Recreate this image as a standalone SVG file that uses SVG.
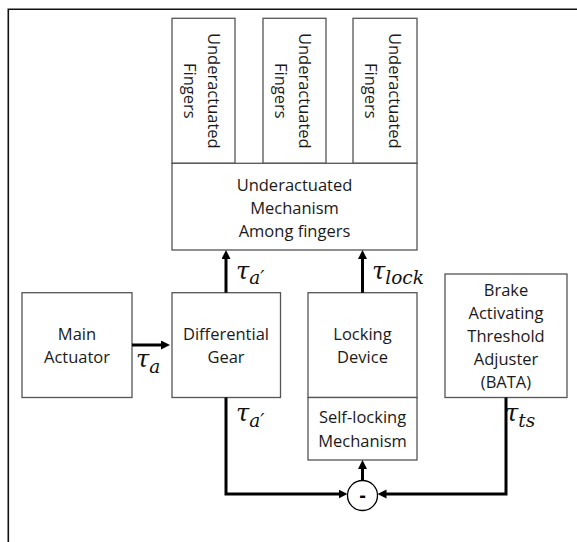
<svg xmlns="http://www.w3.org/2000/svg" width="577" height="542" viewBox="0 0 577 542">
<style>
.box{fill:#fff;stroke:#555;stroke-width:1.3}
.t{font-family:"Open Sans","Liberation Sans",sans-serif;font-size:16.5px;fill:#1a1a1a;text-anchor:middle}
.m{font-family:"DejaVu Serif","Liberation Serif",serif;font-style:italic;font-size:24px;fill:#111}
.s{font-size:18.5px}
.w{stroke:#000;stroke-width:3;fill:none}
.frame{stroke:#111;stroke-width:1.6;fill:none}
</style>
<defs>
<marker id="ah" markerUnits="userSpaceOnUse" markerWidth="10" markerHeight="10" refX="2" refY="4.5" orient="auto">
<path d="M0,0 L9,4.5 L0,9 z" fill="#000"/>
</marker>
</defs>
<rect width="577" height="542" fill="#fff"/>
<path class="frame" d="M8.3,542 V9.3 H577"/>

<g id="finger1">
<rect class="box" x="172" y="18.3" width="63" height="145"/>
<text class="t" transform="translate(207.5,90.8) rotate(90)"><tspan x="0" y="0">Underactuated</tspan><tspan x="0" y="24">Fingers</tspan></text>
</g>
<g id="finger2">
<rect class="box" x="263" y="18.3" width="63" height="145"/>
<text class="t" transform="translate(298.5,90.8) rotate(90)"><tspan x="0" y="0">Underactuated</tspan><tspan x="0" y="24">Fingers</tspan></text>
</g>
<g id="finger3">
<rect class="box" x="353" y="18.3" width="64" height="145"/>
<text class="t" transform="translate(389,90.8) rotate(90)"><tspan x="0" y="0">Underactuated</tspan><tspan x="0" y="24">Fingers</tspan></text>
</g>
<g id="mechanism">
<rect class="box" x="172" y="163.3" width="245" height="86.7"/>
<text class="t"><tspan x="294.5" y="191">Underactuated</tspan><tspan x="294.5" y="214">Mechanism</tspan><tspan x="294.5" y="237">Among fingers</tspan></text>
</g>
<g id="main-actuator">
<rect class="box" x="22" y="292.7" width="110" height="104.8"/>
<text class="t"><tspan x="77" y="339.5">Main</tspan><tspan x="77" y="362.5">Actuator</tspan></text>
</g>
<g id="differential-gear">
<rect class="box" x="172" y="292.7" width="108.5" height="104.8"/>
<text class="t"><tspan x="226" y="339.5">Differential</tspan><tspan x="226" y="362.5">Gear</tspan></text>
</g>
<g id="locking-device">
<rect class="box" x="308" y="292.7" width="109" height="104.8"/>
<text class="t"><tspan x="362.5" y="339.5">Locking</tspan><tspan x="362.5" y="362.5">Device</tspan></text>
</g>
<g id="self-locking">
<rect class="box" x="308" y="397.5" width="109" height="62.5"/>
<text class="t"><tspan x="362.5" y="423">Self-locking</tspan><tspan x="362.5" y="446.5">Mechanism</tspan></text>
</g>
<g id="bata">
<rect class="box" x="445" y="274" width="122" height="123.5"/>
<text class="t"><tspan x="506" y="295.5">Brake</tspan><tspan x="506" y="318.5">Activating</tspan><tspan x="506" y="341.5">Threshold</tspan><tspan x="506" y="364.5">Adjuster</tspan><tspan x="506" y="387.5">(BATA)</tspan></text>
</g>
<g id="subtractor">
<circle cx="362.5" cy="495.5" r="15" fill="#fff" stroke="#000" stroke-width="1.3"/>
<text x="362.5" y="502" text-anchor="middle" font-family="Liberation Sans,sans-serif" font-weight="bold" font-size="20" fill="#000">-</text>
</g>

<g id="connectors">
<line class="w" x1="132" y1="345" x2="163" y2="345" marker-end="url(#ah)"/>
<line class="w" x1="226" y1="292.7" x2="226" y2="257" marker-end="url(#ah)"/>
<line class="w" x1="362.5" y1="292.7" x2="362.5" y2="257" marker-end="url(#ah)"/>
<polyline class="w" points="226,397.5 226,494 340.5,494" marker-end="url(#ah)"/>
<polyline class="w" points="506,397.5 506,494 384.5,494" marker-end="url(#ah)"/>
<line class="w" x1="362.5" y1="480.5" x2="362.5" y2="467" marker-end="url(#ah)"/>
</g>

<g id="labels">
<text class="m" x="136" y="367">τ<tspan class="s" dy="6">a</tspan></text>
<text class="m" x="236" y="279">τ<tspan class="s" dy="5">a′</tspan></text>
<text class="m" x="372" y="279">τ<tspan class="s" dy="5">lock</tspan></text>
<text class="m" x="236" y="421">τ<tspan class="s" dy="6">a′</tspan></text>
<text class="m" x="505" y="421">τ<tspan class="s" dy="6">ts</tspan></text>
</g>
</svg>
